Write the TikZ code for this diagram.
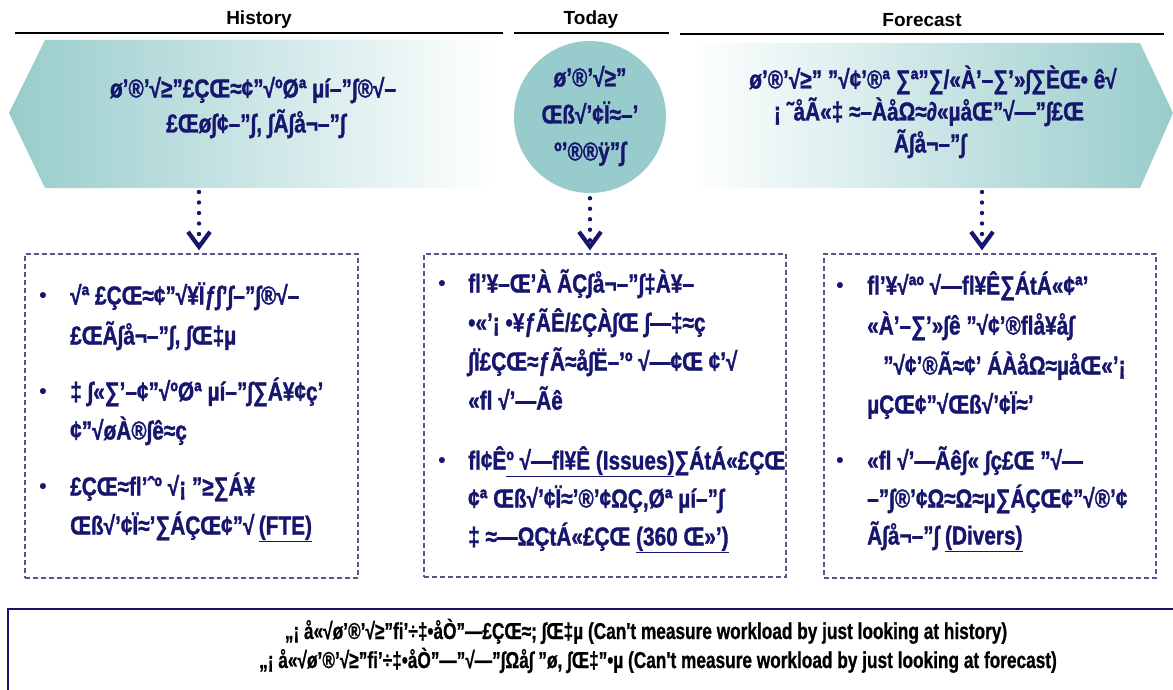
\documentclass[tikz,border=0pt]{standalone}
\usepackage{fontspec}
\setmainfont{Liberation Sans}
\newfontfamily\gbfam[FakeStretch=0.8,FakeBold=1.2]{Liberation Sans}
\newfontfamily\nbfam[FakeStretch=0.75,FakeBold=0.8]{Liberation Sans}
\usetikzlibrary{arrows.meta}
\definecolor{navy}{RGB}{22,22,110}
\definecolor{tealc}{RGB}{152,204,204}
\definecolor{dboxc}{RGB}{85,85,140}
\newcommand\gbf{\gbfam\bfseries\fontsize{26}{28}\selectfont}
\newcommand\nbf{\nbfam\bfseries\fontsize{23}{25}\selectfont}
\tikzset{
  ln/.style={font=\gbf, text=navy, inner sep=0pt, anchor=west, text height=20pt, text depth=5pt},
  cl/.style={ln, anchor=center},
  bul/.style={font=\bfseries\fontsize{21}{24}\selectfont, text=navy, inner sep=0pt, anchor=center, text height=15pt, text depth=5pt},
  hdr/.style={font=\bfseries\fontsize{19}{22}\selectfont, text=black, inner sep=0pt},
  hline/.style={draw=black, line width=1.2pt},
  dbox/.style={draw=dboxc, line width=1.3pt, dash pattern=on 5pt off 3pt, inner sep=0pt},
  dotc/.style={draw=navy, line width=4.4pt, line cap=round, dash pattern=on 0pt off 10.5pt,
    -{Straight Barb[length=15pt, width=22pt, line width=4.2pt]}, shorten >=3pt},
  note/.style={draw=navy, line width=2pt, inner sep=0pt},
  nl/.style={font=\nbf, text=black, inner sep=0pt, text height=17pt, text depth=5pt},
}
\begin{document}
\begin{tikzpicture}[x=1pt,y=-1pt]
\useasboundingbox (0,0) rectangle (1173,690);
% headers
\node[hdr] (hH) at (259,20) {History};
\node[hdr] (hT) at (591,20) {Today};
\node[hdr] (hF) at (922,20) {Forecast};
\draw[hline] (15,33) -- (503,33);
\draw[hline] (514,33) -- (669,33);
\draw[hline] (680,34) -- (1164,34);
% history arrow
\path[left color=tealc, right color=white] (9,113) -- (45,40) -- (495,40) -- (495,188) -- (45,188) -- cycle;
\node[cl] (h1) at (253,90) {ø’®’√≥”£ÇŒ≈¢”√ºØª µí–”∫®√–};
\node[cl] (h2) at (256,125) {£Œø∫¢–”∫, ∫Ã∫å¬–”∫};
\coordinate (histbot) at (199,192);
% today circle
\node[circle, fill=tealc, minimum size=152pt, inner sep=0pt] (today) at (590,117) {};
\node[cl] (t1) at (590,79) {ø’®’√≥”};
\node[cl] (t2) at (590,116) {Œß√’¢Ï≈–’};
\node[cl] (t3) at (590,153) {º’®®ÿ”∫};
% forecast arrow
\path[left color=white, right color=tealc] (690,43) -- (1140,43) -- (1173,113) -- (1140,188) -- (690,188) -- cycle;
\node[cl] (f1) at (933,81) {ø’®’√≥” ”√¢’®ª ∑ª”∑/«À’–∑’»∫∑ÈŒ• ê√};
\node[cl] (f2) at (929,113) {¡ ˜åÃ«‡ ≈–ÀåΩ≈∂«µåŒ”√—”∫£Œ};
\node[cl] (f3) at (930,145) {Ã∫å¬–”∫};
\coordinate (forebot) at (982,192);
% dashed boxes
\node[dbox, minimum width=333pt, minimum height=324pt] (lbox) at (191.5,416) {};
\node[dbox, minimum width=362pt, minimum height=323pt] (mbox) at (605,415.5) {};
\node[dbox, minimum width=332pt, minimum height=324pt] (rbox) at (990,416) {};
% connectors
\draw[dotc] (histbot) -- (lbox.north -| histbot);
\draw[dotc] ([yshift=-5pt]today.south) -- (mbox.north -| today.south);
\draw[dotc] (forebot) -- (rbox.north -| forebot);
% left box
\node[bul] (lb1) at (43,297) {•};
\node[ln] (l11) at (70,297) {√ª £ÇŒ≈¢”√¥Ïƒ∫’∫–”∫®√–};
\node[ln] (l12) at (70,337) {£ŒÃ∫å¬–”∫, ∫Œ‡µ};
\node[bul] (lb2) at (43,393) {•};
\node[ln] (l21) at (70,393) {‡ ∫«∑’–¢”√ºØª µí–”∫∑Á¥¢ç’};
\node[ln] (l22) at (70,432) {¢”√øÀ®∫ê≈ç};
\node[bul] (lb3) at (43,488) {•};
\node[ln] (l31) at (70,488) {£ÇŒ≈fl’ˆº √¡ ”≥∑Á¥};
\node[ln] (l32) at (70,527) {Œß√’¢Ï≈’∑ÁÇŒ¢”√\,\underline{(FTE)}};
% middle box
\node[bul] (mb1) at (442,285) {•};
\node[ln] (m11) at (468,285) {fl’¥–Œ’À ÃÇ∫å¬–”∫‡À¥–};
\node[ln] (m12) at (468,324) {•«’¡ •¥ƒÃÊ/£ÇÀ∫Œ ∫—‡≈ç};
\node[ln] (m13) at (468,363) {∫Ï£ÇŒ≈ƒÃ≈å∫Ë–’º √—¢Œ ¢’√};
\node[ln] (m14) at (468,402) {«fl √’—Ãê};
\node[bul] (mb2) at (442,462) {•};
\node[ln] (m21) at (468,462) {fl¢Ê\underline{º √—fl¥Ê (Issues)}∑ÁtÁ«£ÇŒ};
\node[ln] (m22) at (468,500) {¢ª Œß√’¢Ï≈’®’¢ΩÇ,Øª µí–”∫};
\node[ln] (m23) at (468,538) {‡ ≈—ΩÇtÁ«£ÇŒ \underline{(360 Œ»’)}};
% right box
\node[bul] (rb1) at (840,287) {•};
\node[ln] (r11) at (867,287) {fl’¥√ªº √—fl¥Ê∑ÁtÁ«¢ª’};
\node[ln] (r12) at (867,327) {«À’–∑’»∫ê ”√¢’®flå¥å∫};
\node[ln] (r13) at (883,367) {”√¢’®Ã≈¢’ ÁÀåΩ≈µåŒ«’¡};
\node[ln] (r14) at (867,406) {µÇŒ¢”√Œß√’¢Ï≈’};
\node[bul] (rb2) at (840,462) {•};
\node[ln] (r21) at (867,462) {«fl √’—Ãê∫« ∫ç£Œ ”√—};
\node[ln] (r22) at (867,500) {–”∫®’¢Ω≈Ω≈µ∑ÁÇŒ¢”√®’¢};
\node[ln] (r23) at (867,537) {Ã∫å¬–”∫ \underline{(Divers)}};
% bottom note
\node[note, minimum width=1180pt, minimum height=92pt] (nbox) at (598,655) {};
\node[nl] (n1) at (646,633) {„¡ å«√ø’®’√≥”fi’÷‡•åÒ”—£ÇŒ≈; ∫Œ‡µ (Can't measure workload by just looking at history)};
\node[nl] (n2) at (658,662) {„¡ å«√ø’®’√≥”fi’÷‡•åÒ”—”√—”∫Ωå∫ ”ø, ∫Œ‡”•µ (Can't measure workload by just looking at forecast)};
\end{tikzpicture}
\end{document}
